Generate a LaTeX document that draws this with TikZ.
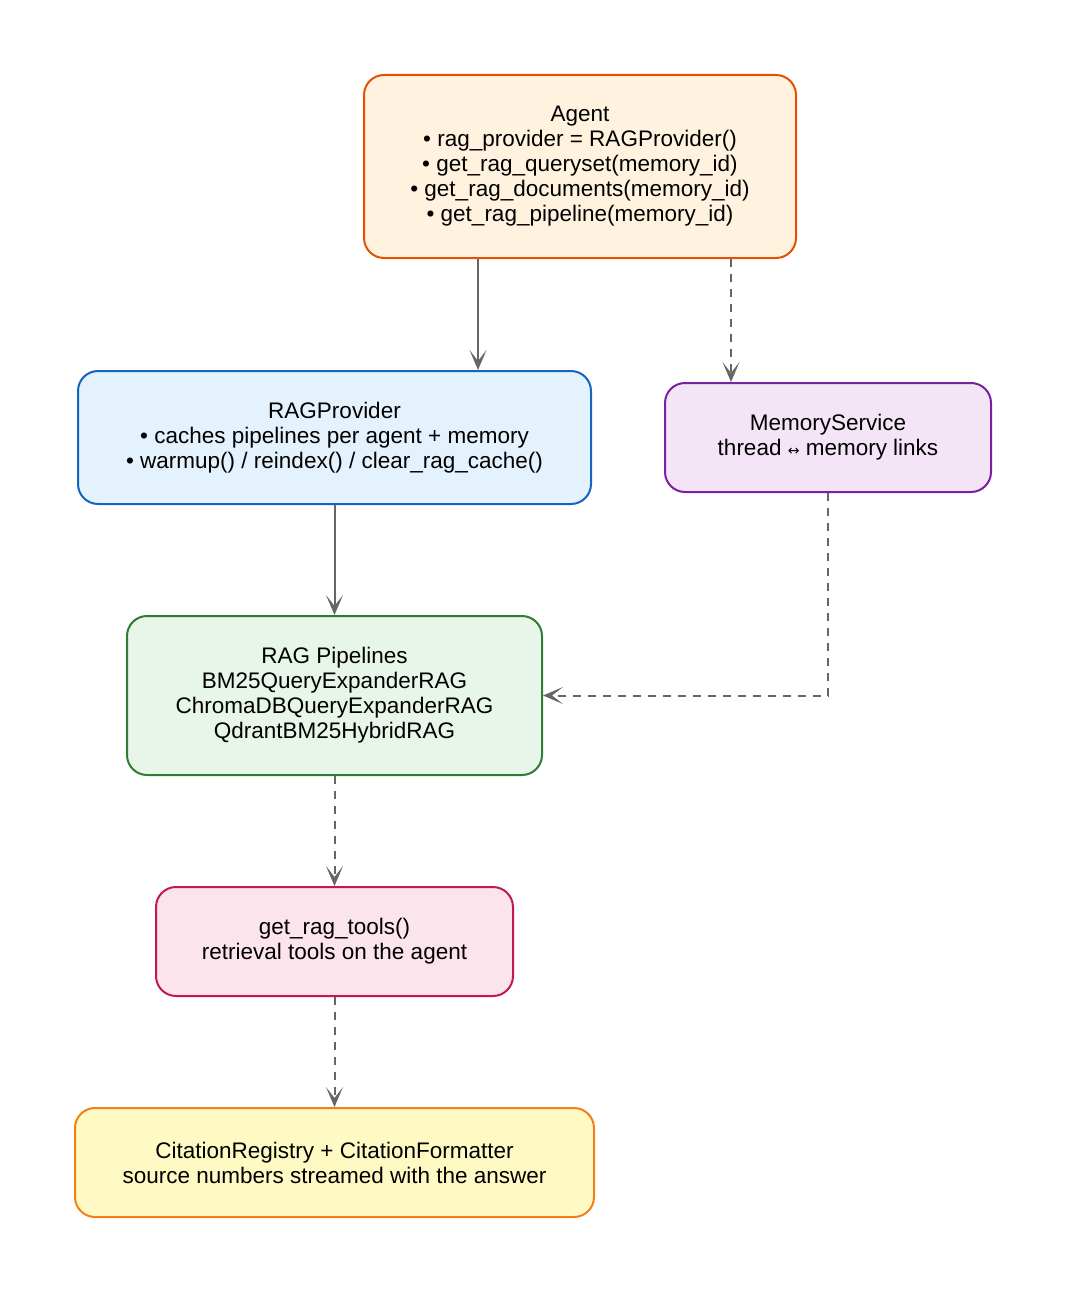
\documentclass[tikz,border=0pt]{standalone}
\usepackage{fontspec}
\setmainfont{Liberation Sans}
\newfontfamily\djv{DejaVu Sans}
\usetikzlibrary{arrows.meta}
\definecolor{aF}{HTML}{FFF3E0}\definecolor{aD}{HTML}{E65100}
\definecolor{bF}{HTML}{E3F2FD}\definecolor{bD}{HTML}{1565C0}
\definecolor{cF}{HTML}{F3E5F5}\definecolor{cD}{HTML}{7B1FA2}
\definecolor{dF}{HTML}{E8F5E9}\definecolor{dD}{HTML}{2E7D32}
\definecolor{eF}{HTML}{FCE4EC}\definecolor{eD}{HTML}{C2185B}
\definecolor{fF}{HTML}{FFF9C4}\definecolor{fD}{HTML}{F57F17}
\definecolor{arr}{HTML}{666666}
\begin{document}
\begin{tikzpicture}[x=1pt,y=-1pt,
 box/.style={rectangle,rounded corners=20pt,line width=2pt,align=center,inner sep=0pt,
   font=\fontsize{22.5}{25}\selectfont},
 conn/.style={draw=arr,line width=2pt,-{Stealth[length=20pt,width=17pt,inset=11pt]}},
 dsh/.style={conn,dash pattern=on 8pt off 7pt}]
\useasboundingbox (0,0) rectangle (1066,1292);
\node[box,fill=aF,draw=aD,minimum width=432pt,minimum height=183pt] (agent) at (580,166.5)
 {Agent\\• rag\_provider = RAGProvider()\\• get\_rag\_queryset(memory\_id)\\• get\_rag\_documents(memory\_id)\\• get\_rag\_pipeline(memory\_id)};
\node[box,fill=bF,draw=bD,minimum width=513pt,minimum height=133pt] (prov) at (334.5,437.5)
 {RAGProvider\\• caches pipelines per agent + memory\\• warmup() / reindex() / clear\_rag\_cache()};
\node[box,fill=cF,draw=cD,minimum width=326pt,minimum height=109pt] (mem) at (828,437.5)
 {MemoryService\\thread {\djv\fontsize{14}{25}\selectfont ↔} memory links};
\node[box,fill=dF,draw=dD,minimum width=415pt,minimum height=159pt] (pipe) at (334.5,695.5)
 {RAG Pipelines\\BM25QueryExpanderRAG\\ChromaDBQueryExpanderRAG\\QdrantBM25HybridRAG};
\node[box,fill=eF,draw=eD,minimum width=357pt,minimum height=109pt] (tools) at (334.5,941.5)
 {get\_rag\_tools()\\retrieval tools on the agent};
\node[box,fill=fF,draw=fD,minimum width=519pt,minimum height=109pt] (cit) at (334.5,1162.5)
 {CitationRegistry + CitationFormatter\\source numbers streamed with the answer};
\draw[conn] (agent.south -| 478,0) -- (prov.north -| 478,0);
\draw[dsh] (agent.south -| 731,0) -- (mem.north -| 731,0);
\draw[conn] (prov) -- (pipe);
\draw[dsh] (mem.south) |- (pipe.east);
\draw[dsh] (pipe) -- (tools);
\draw[dsh] (tools) -- (cit);
\end{tikzpicture}
\end{document}
